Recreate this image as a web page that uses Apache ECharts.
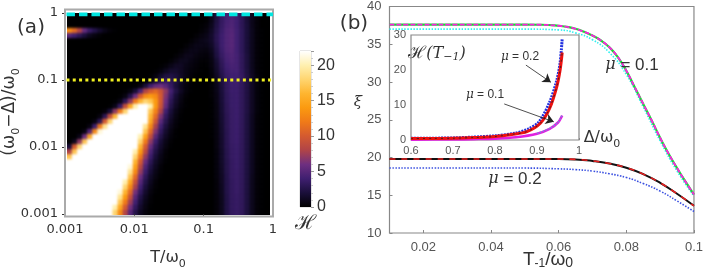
<!DOCTYPE html>
<html><head><meta charset="utf-8">
<style>html,body{margin:0;padding:0;background:#fff}
#heatClip{position:absolute;left:67px;top:13px;width:203px;height:202px;overflow:hidden;background:#000}
#heat{position:absolute;left:-67px;top:-13px;width:706px;height:269px;filter:blur(1.2px);transform-origin:67px 13px;transform:scale(1.015,1.01)}
#c{position:absolute;left:0;top:0;width:706px;height:269px;filter:blur(0.45px)}</style>
<script src="https://cdn.jsdelivr.net/npm/echarts@6/dist/echarts.min.js"></script>
</head><body><div id="heatClip"><div id="heat"></div></div><div id="c"></div>
<script>
// ---------- panel (a): heat map values, rows top (Delta near 0) to bottom, log-spaced cells
const heatRows = [
[0,0,0,0,0,0,0,0,0,0, 0,0,0,0,0,0,0,0,0,0, 0,0,0,0,0,0,0,.1,.8,2.2, 3.4,4.2,4.5,3.9,2.9,1.9,.9,.3,0,0],
[0,0,0,0,0,0,0,0,0,0, 0,0,0,0,0,0,0,0,0,0, 0,0,0,0,0,0,0,.1,.8,2.2, 3.4,4.2,4.6,4,3,1.9,.9,.3,0,0],
[0,0,0,0,0,0,0,0,0,0, 0,0,0,0,0,0,0,0,0,0, 0,0,0,0,0,0,.1,.3,1,2.4, 3.5,4.4,4.7,4,3,2,.9,.3,0,0],
[13,11,8,5.5,3.5,2.5,1.5,.8,.3,.1, 0,0,0,0,0,0,0,0,0,0, 0,0,0,0,0,0,.2,.5,1.3,2.6, 3.7,4.6,4.9,4.1,3.1,2,1,.3,.1,0],
[5,4,3,2,1,.5,.2,0,0,0, 0,0,0,0,0,0,0,0,0,0, 0,0,0,0,0,.2,.5,.8,1.5,2.8, 3.9,4.7,5,4.1,3.1,2,1,.3,.1,0],
[0,0,0,0,0,0,0,0,0,0, 0,0,0,0,0,0,0,0,0,0, 0,0,0,0,.2,.5,.8,1,1.5,2.8, 3.9,4.7,5,4.1,3.1,2,1,.3,.1,0],
[0,0,0,0,0,0,0,0,0,0, 0,0,0,0,0,0,0,0,0,0, 0,0,0,.2,.5,.8,.8,.8,1.3,2.6, 3.9,4.7,5,4.1,3.1,2,1,.3,.1,0],
[0,0,0,0,0,0,0,0,0,0, 0,0,0,0,0,0,0,0,0,0, 0,0,.2,.5,.8,.8,.6,.5,1,2.4, 3.7,4.6,4.9,4.1,3.1,2,1,.3,.1,0],
[0,0,0,0,0,0,0,0,0,0, 0,0,0,0,0,0,0,0,0,0, 0,.2,.5,.9,.9,.6,.4,.3,.8,2.2, 3.5,4.4,4.7,4.2,3.2,2.1,1,.3,.1,0],
[0,0,0,0,0,0,0,0,0,0, 0,0,0,0,0,0,0,0,0,0, .2,.6,1,1,.7,.4,.2,.2,.6,1.8, 3.2,4.2,4.6,4.2,3.2,2.1,1,.3,.1,0],
[0,0,0,0,0,0,0,0,0,0, 0,0,0,0,0,0,0,0,.1,.3, .8,1.2,1.2,.8,.5,.3,.1,.1,.5,1.6, 3,4,4.4,4.2,3.2,2.1,1,.3,.1,0],
[0,0,0,0,0,0,0,0,0,0, 0,0,0,0,0,0,0,.1,.4,1, 1.6,1.6,1.2,.7,.4,.2,.1,0,.4,1.4, 2.8,3.8,4.2,4.2,3.3,2.2,1.1,.3,.1,0],
[0,0,0,0,0,0,0,0,0,0, 0,0,0,0,0,0,.1,.5,1.4,2.2, 2.4,2,1.3,.7,.3,.1,0,0,.3,1.2, 2.5,3.6,4,4,3.4,2.3,1.2,.4,.1,0],
[0,0,0,0,0,0,0,0,0,0, 0,0,0,0,0,.1,.5,1.6,2.8,3.4, 3,2.2,1.3,.6,.2,0,0,0,.2,.9, 2.1,3.3,3.9,3.9,3.3,2.3,1.2,.4,.1,0],
[0,0,0,0,0,0,0,0,0,0, 0,0,0,.1,.5,2,4,5.5,6,5, 3.4,2,1,.4,.1,0,0,0,.2,.8, 2,3.2,3.8,3.8,3.2,2.3,1.2,.4,.1,0],
[0,0,0,0,0,0,0,0,0,0, 0,.1,.5,1.8,4.5,8,10,11,9.5,7, 4.2,2.4,1.2,.4,.1,0,0,0,.2,.8, 2,3.2,3.8,3.8,3.2,2.3,1.2,.4,.1,0],
[0,0,0,0,0,0,0,0,0,0, .1,.6,2.5,6,10,13,14,13,10,6.5, 3.6,1.8,.8,.2,0,0,0,0,.2,.7, 1.9,3.1,3.7,3.8,3.2,2.3,1.2,.4,.1,0],
[0,0,0,0,0,0,0,0,0,.1, .7,3,7,12,16,18,17,14,10,6, 3,1.5,.6,.1,0,0,0,0,.1,.7, 1.9,3.1,3.7,3.8,3.2,2.3,1.2,.4,.1,0],
[0,0,0,0,0,0,0,0,.1,.8, 3.5,9,15,20,23,24,20,14,9.5,5.5, 2.6,1.2,.4,.1,0,0,0,0,.1,.6, 1.8,3,3.7,3.8,3.2,2.3,1.2,.4,.1,0],
[0,0,0,0,0,0,0,.3,2,7, 12,18,22,25,25,24,17,12.5,8,4, 2,.8,.2,0,0,0,0,0,.1,.6, 1.8,3,3.6,3.8,3.2,2.3,1.2,.4,.1,0],
[0,0,0,0,0,0,.5,3,9,16, 22,25,25,25,25,23,16,11,6.5,3.3, 1.6,.6,.1,0,0,0,0,0,.1,.6, 1.7,2.9,3.6,3.8,3.2,2.2,1.1,.3,.1,0],
[0,0,0,0,0,.5,3,10,18,23, 25,25,25,25,25,22,15,9.5,5.2,2.7, 1.2,.4,.1,0,0,0,0,0,.1,.5, 1.7,2.9,3.6,3.8,3.2,2.2,1.1,.3,.1,0],
[0,0,0,0,.6,4,12,19,24,25, 25,25,25,25,25,19,13,7.7,4.1,2.1, .9,.3,0,0,0,0,0,0,.1,.5, 1.6,2.9,3.6,3.8,3.2,2.2,1.1,.3,.1,0],
[0,0,0,.6,5,13,21,25,25,25, 25,25,25,25,24,17,11,6.5,3.3,1.6, .6,.1,0,0,0,0,0,0,.1,.5, 1.6,2.8,3.6,3.8,3.2,2.2,1.1,.3,.1,0],
[0,0,.8,6,15,23,25,25,25,25, 25,25,25,24,20,14.5,9,5,2.6,1.2, .4,.1,0,0,0,0,0,0,.1,.5, 1.5,2.8,3.6,3.8,3.2,2.2,1.1,.3,.1,0],
[0,1,7,17,24,25,25,25,25,25, 25,25,25,23,18,12,7,3.8,1.9,.8, .2,0,0,0,0,0,0,0,0,.5, 1.5,2.8,3.6,3.8,3.2,2.2,1.1,.3,.1,0],
[2,10,18,24,25,25,25,25,25,25, 25,25,25,22,16,10,5.7,3,1.5,.6, .1,0,0,0,0,0,0,0,0,.5, 1.5,2.8,3.5,3.7,3.2,2.2,1.1,.3,.1,0],
[8,17,24,25,25,25,25,25,25,25, 25,25,24,20,14,8.5,4.6,2.4,1.1,.3, 0,0,0,0,0,0,0,0,0,.4, 1.4,2.7,3.5,3.7,3.2,2.2,1.1,.3,.1,0],
[17,24,25,25,25,25,25,25,25,25, 25,25,24,18,12,7,3.8,1.9,.8,.2, 0,0,0,0,0,0,0,0,0,.4, 1.4,2.7,3.5,3.7,3.2,2.2,1.1,.3,.1,0],
[24,25,25,25,25,25,25,25,25,25, 25,25,23,16,10,5.7,3,1.4,.6,.1, 0,0,0,0,0,0,0,0,0,.4, 1.4,2.6,3.4,3.7,3.2,2.2,1.1,.3,.1,0],
[25,25,25,25,25,25,25,25,25,25, 25,25,21,14.5,8.5,4.6,2.4,1.1,.3,0, 0,0,0,0,0,0,0,0,0,.4, 1.3,2.6,3.4,3.7,3.2,2.2,1.1,.3,.1,0],
[25,25,25,25,25,25,25,25,25,25, 25,24,19,13,7.2,3.8,1.9,.8,.2,0, 0,0,0,0,0,0,0,0,0,.4, 1.3,2.6,3.4,3.6,3.2,2.2,1.1,.3,.1,0],
[25,25,25,25,25,25,25,25,25,25, 25,23,17,11,6,3.1,1.4,.6,.1,0, 0,0,0,0,0,0,0,0,0,.4, 1.2,2.5,3.4,3.6,3.2,2.2,1,.3,.1,0],
[25,25,25,25,25,25,25,25,25,25, 24,20,15,9.2,5,2.5,1.1,.3,0,0, 0,0,0,0,0,0,0,0,0,.3, 1.2,2.5,3.3,3.6,3.2,2.2,1,.3,.1,0],
[25,25,25,25,25,25,25,25,25,25, 23,18,13,7.7,4.1,2,.8,.2,0,0, 0,0,0,0,0,0,0,0,0,.3, 1.1,2.5,3.3,3.6,3.2,2.2,1,.3,.1,0],
[25,25,25,25,25,25,25,25,25,25, 21,16,11,6.2,3.3,1.5,.5,.1,0,0, 0,0,0,0,0,0,0,0,0,.3, 1.1,2.5,3.3,3.6,3.2,2.2,1,.3,.1,0],
[25,25,25,25,25,25,25,25,25,24, 19,14,9.2,5,2.5,1.1,.3,0,0,0, 0,0,0,0,0,0,0,0,0,.3, 1,2.4,3.3,3.5,3.2,2.2,1,.3,.1,0],
[25,25,25,25,25,25,25,25,25,22, 17,12,7.5,4.1,2,.8,.2,0,0,0, 0,0,0,0,0,0,0,0,0,.3, 1,2.4,3.3,3.5,3.2,2.2,1,.3,.1,0],
[25,25,25,25,25,25,25,25,25,20, 15,10,6.2,3.3,1.5,.6,.1,0,0,0, 0,0,0,0,0,0,0,0,0,.3, 1,2.4,3.3,3.5,3.2,2.2,1,.3,.1,0],
[25,25,25,25,25,25,25,25,25,18, 13,8.2,5,2.6,1.1,.4,.1,0,0,0, 0,0,0,0,0,0,0,0,0,.3, 1,2.4,3.3,3.5,3.2,2.2,1,.3,.1,0]
];
const colorStops = ['#000000','#1a0f3a','#3f1f70','#6e2f80','#b04448','#d45a30','#f07a18','#fb9a10','#feb530','#ffd570','#fff0b0','#ffffff'];
const heatMax = 22;
const colorbarTicks = [0,5,10,15,20];
const cyanLine = [[0.00105,0.955],[1,0.955]];
const yellowLine = [[0.00105,0.1],[1,0.1]];

// ---------- panel (b): main curves [T, xi]
const mu01Solid = [[.01,37.6],[.02,37.6],[.03,37.6],[.04,37.6],[.05,37.6],[.055,37.58],[.06,37.45],[.0625,37.3],[.065,37.05],[.0675,36.65],[.07,36.15],[.0725,35.5],[.075,34.6],[.0775,33.3],[.08,31.5],[.0825,29.3],[.085,27.1],[.0875,24.9],[.09,22.6],[.0925,20.5],[.095,18.6],[.0975,16.8],[.1,15.1]];
const mu01Dotted = [[.01,37],[.02,37],[.03,37],[.04,37],[.05,37],[.06,36.9],[.065,36.5],[.07,35.6],[.075,33.9],[.08,31],[.085,26.7],[.09,22.2],[.095,18.2],[.1,14.9]];
const mu02Solid = [[.01,19.8],[.02,19.8],[.03,19.8],[.04,19.8],[.05,19.8],[.06,19.8],[.065,19.75],[.07,19.55],[.075,19.2],[.08,18.65],[.085,17.8],[.09,16.65],[.095,15.2],[.1,13.6]];
const mu02Dotted = [[.01,18.6],[.02,18.6],[.03,18.6],[.04,18.6],[.05,18.6],[.06,18.5],[.065,18.4],[.07,18.2],[.075,17.85],[.08,17.35],[.085,16.55],[.09,15.55],[.095,14.25],[.1,12.85]];
const xTicksB = [.02,.04,.06,.08,.1];

// ---------- inset [Delta, H]
const insetMu02 = [[.6,.4],[.65,.45],[.7,.5],[.75,.7],[.8,1],[.84,1.6],[.876,2.4],[.908,4.8],[.93,9],[.947,15.2],[.955,20],[.96,25]];
const insetMu02Dotted = [[.6,.5],[.7,.6],[.8,1.2],[.85,2],[.88,3.2],[.905,5.2],[.93,10.8],[.947,17],[.955,22],[.96,29]];
const insetMu01 = [[.6,.1],[.7,.15],[.75,.25],[.8,.4],[.85,.8],[.9,1.8],[.93,3.2],[.95,5],[.96,7]];
const insetMu01Dotted = [[.9,1.9],[.93,3.3],[.95,5.1],[.96,7.2]];
const arrowMu02 = [[.8736,21.4],[.933,16.5]];
const arrowMu01 = [[.822,10.3],[.94,5.2]];

// one repeated edge cell on every side, so the soft edge of the picture stays the colour of its edge
const pad = (a, i) => a[Math.max(0, Math.min(a.length - 1, i))];
const nRows = heatRows.length, nCols = heatRows[0].length;
const colNames = Array.from({length:nCols + 2}, (_, i) => 'c' + i);
const rowNames = Array.from({length:nRows + 2}, (_, i) => 'r' + i);
const heatData = [];
rowNames.forEach((_, r) => colNames.forEach((_, c) => heatData.push([c, r, pad(pad(heatRows, r - 1), c - 1)])));

const heatChart = echarts.init(document.getElementById('heat'), null, {renderer:'canvas'});
heatChart.setOption({
  animation:false,
  backgroundColor:'#000',
  grid:{left:62, top:8, width:210, height:210},
  xAxis:{type:'category', data:colNames, show:false},
  yAxis:{type:'category', data:rowNames, inverse:true, show:false},
  visualMap:{show:false, type:'continuous', min:0, max:heatMax, inRange:{color:colorStops}},
  series:[{type:'heatmap', data:heatData, progressive:0, itemStyle:{borderWidth:0}, emphasis:{disabled:true}}]
});

const txt = '#333';
const subRich = {
  sub: {fontFamily:'DejaVu Sans', fontSize:11, verticalAlign:'bottom', lineHeight:24, padding:[7,0,0,0], fill:txt},
};
function T(x, y, text, font, extra) {
  return {type:'text', x, y, z:50, rotation:(extra&&extra.rotation)||0,
    style:Object.assign({text, font, fill:txt, textAlign:'center', textVerticalAlign:'middle'}, extra&&extra.style)};
}
const lbl = {fontFamily:'Liberation Sans', color:'#555', fontSize:13};
const muRich = s => ({i:{fontStyle:'italic',fontFamily:'DejaVu Serif',fontSize:s,fill:txt}});

const option = {
  animation:false,
  grid:[
    {left:65, top:13, width:208, height:201},
    {left:300, top:51, width:11, height:156, show:true, borderColor:'#ccc', borderWidth:1},
    {left:389.5, top:5, width:309, height:228, show:true, borderColor:'#888', borderWidth:1.2},
    {left:411, top:35, width:168, height:105, show:true, borderColor:'#888', borderWidth:1.2, backgroundColor:'#fff', z:5}
  ],
  xAxis:[
    {gridIndex:0, type:'log', logBase:10, min:.001, max:1, axisLine:{show:false}, splitLine:{show:false},
      axisTick:{show:true, length:3, lineStyle:{color:'#333'}}, minorTick:{show:false},
      axisLabel:{fontFamily:'DejaVu Sans', fontSize:13, color:txt, margin:9, hideOverlap:false, showMinLabel:true, showMaxLabel:true}},
    {gridIndex:1, type:'category', data:['H'], show:false},
    {gridIndex:2, type:'value', min:.01, max:.1, axisLine:{show:false}, splitLine:{show:false},
      axisTick:{show:true, inside:true, length:3, lineStyle:{color:'#888'}, customValues:xTicksB},
      axisLabel:Object.assign({}, lbl, {margin:8, customValues:xTicksB, formatter:v => +(+v).toFixed(2) + ''})},
    {gridIndex:3, type:'value', min:.6, max:1, interval:.1, axisLine:{show:false}, splitLine:{show:false},
      axisTick:{show:true, inside:true, length:2, lineStyle:{color:'#888'}},
      axisLabel:Object.assign({}, lbl, {fontSize:11, margin:5, showMaxLabel:true, formatter:v => +(+v).toFixed(1) + ''})}
  ],
  yAxis:[
    {gridIndex:0, type:'log', logBase:10, min:.001, max:1, axisLine:{show:false}, splitLine:{show:false},
      axisTick:{show:true, length:3, lineStyle:{color:'#333'}}, minorTick:{show:false},
      axisLabel:{fontFamily:'DejaVu Sans', fontSize:13, color:txt, margin:7, showMinLabel:true, showMaxLabel:true}},
    {gridIndex:1, type:'value', min:0, max:heatMax, position:'right', interval:5, axisLine:{show:false}, splitLine:{show:false},
      axisTick:{show:true, length:3, lineStyle:{color:'#999'}}, minorTick:{show:true, splitNumber:5, length:2, lineStyle:{color:'#ccc'}},
      axisLabel:{fontFamily:'Liberation Sans', fontSize:16, color:txt, margin:6, customValues:colorbarTicks}},
    {gridIndex:2, type:'value', min:10, max:40, interval:5, axisLine:{show:false}, splitLine:{show:false},
      axisTick:{show:true, inside:true, length:3, lineStyle:{color:'#888'}},
      axisLabel:Object.assign({}, lbl, {margin:8})},
    {gridIndex:3, type:'value', min:0, max:30, interval:10, axisLine:{show:false}, splitLine:{show:false},
      axisTick:{show:true, inside:true, length:2, lineStyle:{color:'#888'}},
      axisLabel:Object.assign({}, lbl, {fontSize:11, margin:5})}
  ],
  series:[
    {type:'line', xAxisIndex:0, yAxisIndex:0, data:cyanLine, symbol:'none', silent:true, z:4,
      lineStyle:{color:'#00e6e0', width:3.6, type:[8.5,4]}},
    {type:'line', xAxisIndex:0, yAxisIndex:0, data:yellowLine, symbol:'none', silent:true, z:4,
      lineStyle:{color:'#f0f020', width:3, type:[3,3.3]}},
    {type:'bar', xAxisIndex:1, yAxisIndex:1, data:[heatMax], barWidth:'100%', silent:true,
      itemStyle:{color:new echarts.graphic.LinearGradient(0,1,0,0, colorStops.map((c,i)=>({offset:i/(colorStops.length-1), color:c})))}},
    {type:'line', xAxisIndex:2, yAxisIndex:2, data:mu01Dotted, smooth:.5, symbol:'none', lineStyle:{color:'#30f0f0', width:1.6, type:[1.5,1.5]}},
    {type:'line', xAxisIndex:2, yAxisIndex:2, data:mu01Solid, smooth:.5, symbol:'none', lineStyle:{color:'#10e030', width:2.2}},
    {type:'line', xAxisIndex:2, yAxisIndex:2, data:mu01Solid, smooth:.5, symbol:'none', lineStyle:{color:'#ff20e0', width:1.8, type:[5,2]}},
    {type:'line', xAxisIndex:2, yAxisIndex:2, data:mu02Dotted, smooth:.5, symbol:'none', lineStyle:{color:'#3a50e0', width:1.6, type:[1.5,1.5]}},
    {type:'line', xAxisIndex:2, yAxisIndex:2, data:mu02Solid, smooth:.5, symbol:'none', lineStyle:{color:'#111', width:2}},
    {type:'line', xAxisIndex:2, yAxisIndex:2, data:mu02Solid, smooth:.5, symbol:'none', lineStyle:{color:'#e82020', width:1.6, type:[6,6]}},
    {type:'line', xAxisIndex:3, yAxisIndex:3, data:insetMu01, smooth:.3, symbol:'none', z:6, lineStyle:{color:'#e020e0', width:2.6}},
    {type:'line', xAxisIndex:3, yAxisIndex:3, data:insetMu01Dotted, smooth:.3, symbol:'none', z:6, lineStyle:{color:'#7090e0', width:1.4, type:[1.5,1.5]}},
    {type:'line', xAxisIndex:3, yAxisIndex:3, data:insetMu02Dotted, smooth:.3, symbol:'none', z:6, lineStyle:{color:'#2030e0', width:3, type:[2,1]}},
    {type:'line', xAxisIndex:3, yAxisIndex:3, data:insetMu02, smooth:.3, symbol:'none', z:6, lineStyle:{color:'#ee1010', width:3}},
    {type:'line', xAxisIndex:3, yAxisIndex:3, data:insetMu02, smooth:.3, symbol:'none', z:6, lineStyle:{color:'#222', width:.8, type:[2,4]},
      markLine:{silent:true, animation:false, symbol:['none','arrow'], symbolSize:8, label:{show:false}, z:7,
        lineStyle:{color:'#222', width:.8, type:'solid'},
        data:[[{coord:arrowMu02[0]},{coord:arrowMu02[1]}],[{coord:arrowMu01[0]},{coord:arrowMu01[1]}]]}}
  ],
  graphic:[
    {type:'rect', shape:{x:65,y:9.5,width:208,height:207}, z:3, style:{fill:'none', stroke:'#aaa', lineWidth:2}},
    T(31,28,'(a)','20px "DejaVu Sans"'),
    T(354,24,'(b)','20px "DejaVu Sans"'),
    T(10,112,'(ω{sub|0}−Δ)/ω{sub|0}','17px "DejaVu Sans"',{rotation:Math.PI/2, style:{rich:subRich}}),
    T(168,258,'T/ω{sub|0}','16px "DejaVu Sans"',{style:{rich:subRich}}),
    T(305,224,'ℋ','20px "DejaVu Serif"'),
    T(548,260,'T{s|-1}/ω{t|0}','19px "Liberation Sans"',{style:{rich:{
      s:{fontSize:12,fontFamily:'Liberation Sans',padding:[7,0,0,0],fill:txt},
      t:{fontSize:14,fontFamily:'Liberation Sans',padding:[7,0,0,0],fill:txt}}}}),
    T(358,102,'ξ','italic 15px "DejaVu Serif"'),
    T(437,54,'{h|ℋ}(T{s|−1})','italic 16px "DejaVu Serif"',{style:{rich:{
      h:{fontSize:17,fontFamily:'DejaVu Serif',fill:txt},
      s:{fontSize:11,fontFamily:'DejaVu Serif',fontStyle:'italic',padding:[6,0,0,0],fill:txt}}}}),
    T(520,57,'{i|μ} = 0.2','12px "Liberation Sans"',{style:{rich:muRich(12)}}),
    T(485,95,'{i|μ} = 0.1','12px "Liberation Sans"',{style:{rich:muRich(12)}}),
    T(632,65,'{i|μ} = 0.1','17px "Liberation Sans"',{style:{rich:muRich(16)}}),
    T(515,179,'{i|μ} = 0.2','17px "Liberation Sans"',{style:{rich:muRich(16)}}),
    T(602,138,'Δ/ω{sub|0}','16px "DejaVu Sans"',{style:{rich:subRich}})
  ]
};
const chart = echarts.init(document.getElementById('c'), null, {renderer:'canvas'});
chart.setOption(option);
</script></body></html>
